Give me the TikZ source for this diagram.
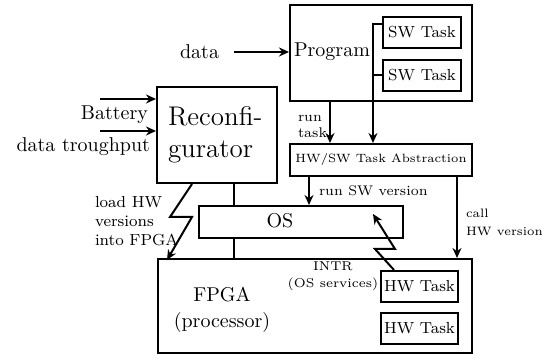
\documentclass[tikz,border=0pt]{standalone}
\usetikzlibrary{arrows.meta}
\usetikzlibrary{calc}

\begin{document}
\begin{tikzpicture}[x=0.5pt,y=-0.5pt,line width=1pt,
		box/.style={draw,shape=rectangle,inner sep=0pt},
		arr/.style={-{Stealth[length=5pt,width=4.5pt]}},
		bus/.style={line width=0.7pt}]
			\useasboundingbox (0,0) rectangle (542,356);
			% boxes
			\node [box,minimum width=91pt,minimum height=48pt] (Program) at (381,53) {};
			\node [anchor=west,inner sep=0pt] (ProgLabel) at (293,52) {Program};
			\node [box,minimum width=39pt,minimum height=15.5pt,font=\footnotesize] (SWa) at (422,32.5) {SW Task};
			\node [box,minimum width=39pt,minimum height=15.5pt,font=\footnotesize] (SWb) at (422,75.5) {SW Task};
			\node [box,minimum width=91pt,minimum height=16pt,font=\fontsize{6}{7}\selectfont] (Abs) at (381,160) {HW/SW Task Abstraction};
			\node [box,minimum width=60pt,minimum height=48pt] (Reconf) at (217,135) {};
			\node [align=left,anchor=west,inner sep=0pt,font=\fontsize{13.5}{16}\selectfont] (ReconfLabel) at (167,135) {Reconfi-\\gurator};
			\node [box,minimum width=102pt,minimum height=16pt] (OS) at (301,222) {};
			\node [inner sep=0pt] (OSLabel) at (280,221) {OS};
			\node [box,minimum width=157pt,minimum height=47pt] (FPGA) at (315,306) {};
			\node [align=center,inner sep=0pt] (FPGALabel) at (222,310) {FPGA\\[1pt](processor)};
			\node [box,minimum width=38.5pt,minimum height=15.5pt,font=\footnotesize] (HWa) at (419.5,286.5) {HW Task};
			\node [box,minimum width=38.5pt,minimum height=15.5pt,font=\footnotesize] (HWb) at (419.5,328.5) {HW Task};
			% inputs
			\node [anchor=east,inner sep=0pt] (Data) at (220,52) {data};
			\node [anchor=east,inner sep=0pt] (Battery) at (149,115) {Battery};
			\node [anchor=east,inner sep=0pt] (Throughput) at (151,147) {data troughput};
			\coordinate (BatIn) at (100,99);
			\coordinate (ThrIn) at (100,131);
			\draw[arr] ([xshift=7pt]Data.east) -- (Program.west |- Data.east);
			\draw[arr] (BatIn) -- (BatIn -| Reconf.west);
			\draw[arr] (ThrIn) -- (ThrIn -| Reconf.west);
			% task calls
			\coordinate (SWBus) at (373,24);
			\coordinate (RunTask) at (330,101);
			\coordinate (RunSW) at (309,176);
			\coordinate (CallHW) at (457,176);
			\coordinate (OSBus) at (234,183);
			\draw[arr] (SWBus -| SWa.west) -- (SWBus) -- (SWBus |- Abs.north);
			\draw (SWb.west) -- (SWb.west -| SWBus);
			\draw[arr] (RunTask |- Program.south) -- (RunTask |- Abs.north);
			\node [align=left,anchor=west,inner sep=0pt,font=\scriptsize] (RunTaskLabel) at (297,126) {run\\task};
			\draw[arr] (RunSW |- Abs.south) -- (RunSW |- OS.north);
			\node [anchor=west,inner sep=0pt,font=\scriptsize] (RunSWLabel) at (318,191) {run SW version};
			\draw[arr] (CallHW |- Abs.south) -- (CallHW |- FPGA.north);
			\node [align=left,anchor=west,inner sep=0pt,font=\fontsize{6.1}{9}\selectfont] (CallHWLabel) at (465,222) {call\\HW version};
			% OS links
			\draw[bus] (OSBus |- Reconf.south) -- (OSBus |- OS.north);
			\draw[bus] (OSBus |- OS.south) -- (OSBus |- FPGA.north);
			% reconfiguration and interrupts
			\draw[arr] ([xshift=-12.5pt]Reconf.south) -- ++(-11pt,-16.5pt) -- ++(11pt,0) -- ([xshift=5pt,yshift=-1pt]FPGA.north west);
			\node [align=left,anchor=west,inner sep=0pt,font=\footnotesize] (LoadLabel) at (94,221) {load HW\\versions\\into FPGA};
			\draw[arr] ([xshift=-12.75pt]HWa.north) -- ++(-9.5pt,10.5pt) -- ++(10pt,0) -- ([xshift=-15.5pt,yshift=-4.5pt]OS.north east);
			\node [align=center,inner sep=0pt,font=\fontsize{6.4}{8.5}\selectfont] (IntrLabel) at (333,276) {INTR\\(OS services)};
		\end{tikzpicture}
\end{document}
